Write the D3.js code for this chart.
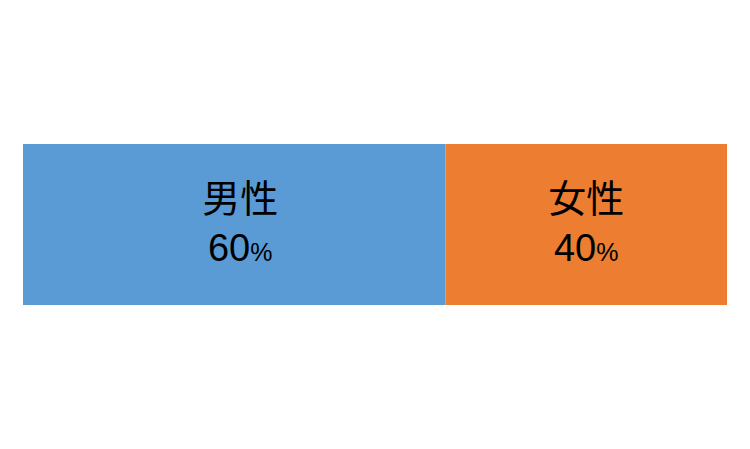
<!DOCTYPE html>
<html>
<head>
<meta charset="utf-8">
<script src="https://cdn.jsdelivr.net/npm/d3@7"></script>
<style>
  body { margin: 0; background: #fff; }
</style>
</head>
<body>
<script>
// データ
const categories = ["男性", "女性"];
const values = [60, 40];
const colors = ["#5B9BD5", "#ED7D31"];

const width = 750;
const height = 449;
const margin = { top: 144, right: 23, bottom: 144, left: 23 };

const svg = d3.select("body").append("svg")
  .attr("width", width)
  .attr("height", height);

const x = d3.scaleLinear()
  .domain([0, d3.sum(values)])
  .range([margin.left, width - margin.right]);

const y = d3.scaleBand()
  .domain(["all"])
  .range([margin.top, margin.top + 161])
  .padding(0);

// 累積値
let acc = 0;
const segs = values.map((v, i) => {
  const s = { cat: categories[i], value: v, start: acc, end: acc + v, color: colors[i] };
  acc += v;
  return s;
});

svg.selectAll("rect.seg")
  .data(segs)
  .enter()
  .append("rect")
  .attr("class", "seg")
  .attr("x", d => x(d.start))
  .attr("y", y("all"))
  .attr("width", d => x(d.end) - x(d.start))
  .attr("height", y.bandwidth())
  .attr("fill", d => d.color);

const labels = svg.selectAll("g.lbl")
  .data(segs)
  .enter()
  .append("g")
  .attr("class", "lbl")
  .attr("transform", d => `translate(${(x(d.start) + x(d.end)) / 2 + (d.start === 0 ? 6 : 0)}, 0)`);

labels.append("text")
  .attr("y", y("all") + 68)
  .attr("text-anchor", "middle")
  .style("font-family", "'Noto Sans CJK JP', sans-serif")
  .style("font-size", "38px")
  .style("fill", "#000")
  .text(d => d.cat);

const num = labels.append("text")
  .attr("y", y("all") + 117)
  .attr("text-anchor", "middle")
  .style("font-family", "'Liberation Sans', Arial, sans-serif")
  .style("fill", "#000");
num.append("tspan")
  .style("font-size", "38px")
  .text(d => d.value);
num.append("tspan")
  .style("font-size", "25px")
  .text("%");
</script>
</body>
</html>
